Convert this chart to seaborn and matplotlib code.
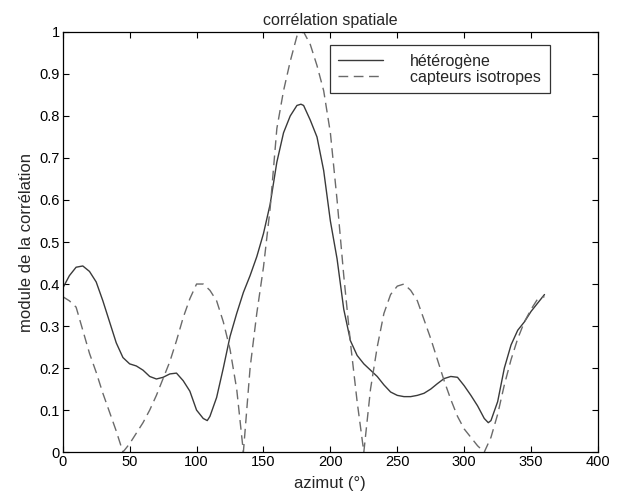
import numpy as np
import pandas as pd
import matplotlib
matplotlib.use("Agg")
import matplotlib.pyplot as plt
import seaborn as sns

azimut = [0, 5, 10, 15, 20, 25, 30, 35, 40, 45, 50, 55, 60, 65, 70, 75, 80, 85, 90, 95,
          100, 105, 108, 110, 115, 120, 125, 130, 135, 140, 145, 150, 155, 160, 165, 170,
          175, 178, 180, 185, 190, 195, 200, 205, 210, 215, 220, 225, 230, 235, 240, 245,
          250, 255, 260, 265, 270, 275, 280, 285, 290, 295, 300, 305, 310, 315, 318, 320,
          325, 330, 335, 340, 345, 350, 355, 360]
heterogene = [0.39, 0.42, 0.44, 0.443, 0.43, 0.405, 0.36, 0.31, 0.26, 0.225, 0.21, 0.205,
              0.195, 0.18, 0.174, 0.178, 0.186, 0.188, 0.17, 0.145, 0.10, 0.08, 0.075, 0.085,
              0.13, 0.20, 0.275, 0.33, 0.38, 0.42, 0.465, 0.52, 0.59, 0.69, 0.76, 0.80,
              0.825, 0.828, 0.825, 0.79, 0.75, 0.67, 0.55, 0.46, 0.34, 0.265, 0.23, 0.21,
              0.195, 0.18, 0.16, 0.143, 0.135, 0.132, 0.132, 0.135, 0.14, 0.15, 0.163,
              0.175, 0.18, 0.178, 0.158, 0.135, 0.11, 0.08, 0.07, 0.075, 0.12, 0.20, 0.255,
              0.29, 0.31, 0.335, 0.355, 0.375]

azimut_iso = [0, 5, 10, 15, 20, 25, 30, 35, 40, 45, 50, 55, 60, 65, 70, 75, 80, 85, 90, 95,
              100, 105, 110, 115, 120, 125, 130, 135, 140, 145, 150, 155, 160, 165, 170, 175,
              180, 185, 190, 195, 200, 205, 210, 215, 220, 225, 230, 235, 240, 245, 250, 255,
              260, 265, 270, 275, 280, 285, 290, 295, 300, 305, 310, 315, 320, 325, 330, 335,
              340, 345, 350, 355, 360]
isotropes = [0.37, 0.36, 0.345, 0.29, 0.235, 0.19, 0.14, 0.095, 0.05, 0.0, 0.02, 0.045,
             0.07, 0.10, 0.135, 0.175, 0.215, 0.265, 0.32, 0.365, 0.40, 0.40, 0.385, 0.36,
             0.31, 0.245, 0.15, 0.0, 0.2, 0.33, 0.44, 0.58, 0.77, 0.86, 0.93, 0.99, 1.0,
             0.97, 0.92, 0.86, 0.76, 0.60, 0.42, 0.26, 0.12, 0.0, 0.15, 0.25, 0.33, 0.375,
             0.395, 0.40, 0.385, 0.36, 0.315, 0.27, 0.22, 0.17, 0.125, 0.085, 0.055, 0.035,
             0.015, 0.0, 0.035, 0.09, 0.16, 0.22, 0.27, 0.31, 0.34, 0.365, 0.37]

labels = ["hétérogène", "capteurs isotropes"]
title = "corrélation spatiale"
xlabel = "azimut (°)"
ylabel = "module de la corrélation"

sns.set_theme(style="white")
plt.rcParams['font.family'] = ["Liberation Sans", "DejaVu Sans"]

fig = plt.figure(figsize=(6.21, 4.99), dpi=100)
ax = fig.add_axes([0.101, 0.094, 0.862, 0.842])

df1 = pd.DataFrame({"x": azimut, "y": heterogene})
df2 = pd.DataFrame({"x": azimut_iso, "y": isotropes})
sns.lineplot(data=df1, x="x", y="y", ax=ax, color="#3a3a3a", linewidth=1.0,
             label=labels[0], sort=False)
sns.lineplot(data=df2, x="x", y="y", ax=ax, color="#6a6a6a", linewidth=1.0,
             label=labels[1], sort=False)
ax.lines[1].set_dashes((7, 4))

ax.set_xlim(0, 400)
ax.set_ylim(0, 1)
ax.set_xticks(np.arange(0, 401, 50))
ax.set_yticks(np.round(np.arange(0, 1.01, 0.1), 1))
ax.set_yticklabels(["0", "0.1", "0.2", "0.3", "0.4", "0.5", "0.6", "0.7", "0.8", "0.9", "1"])
ax.tick_params(axis='both', which='both', direction='in', length=4, width=0.8,
               top=True, right=True, bottom=True, left=True, labelsize=10.5,
               colors='black', pad=2)
for s in ax.spines.values():
    s.set_color('black')
    s.set_linewidth(0.9)
ax.set_title(title, fontsize=11.5, pad=5)
ax.set_xlabel(xlabel, fontsize=12, labelpad=5)
ax.set_ylabel(ylabel, fontsize=12, labelpad=4)

leg = ax.legend(loc='upper right', bbox_to_anchor=(0.91, 0.969), frameon=True,
                fancybox=False, edgecolor='black', fontsize=11.5, handlelength=2.8,
                handletextpad=1.7, borderpad=0.55, labelspacing=0.05, borderaxespad=0)
leg.get_frame().set_linewidth(0.9)

fig.savefig("out.png", dpi=100)
